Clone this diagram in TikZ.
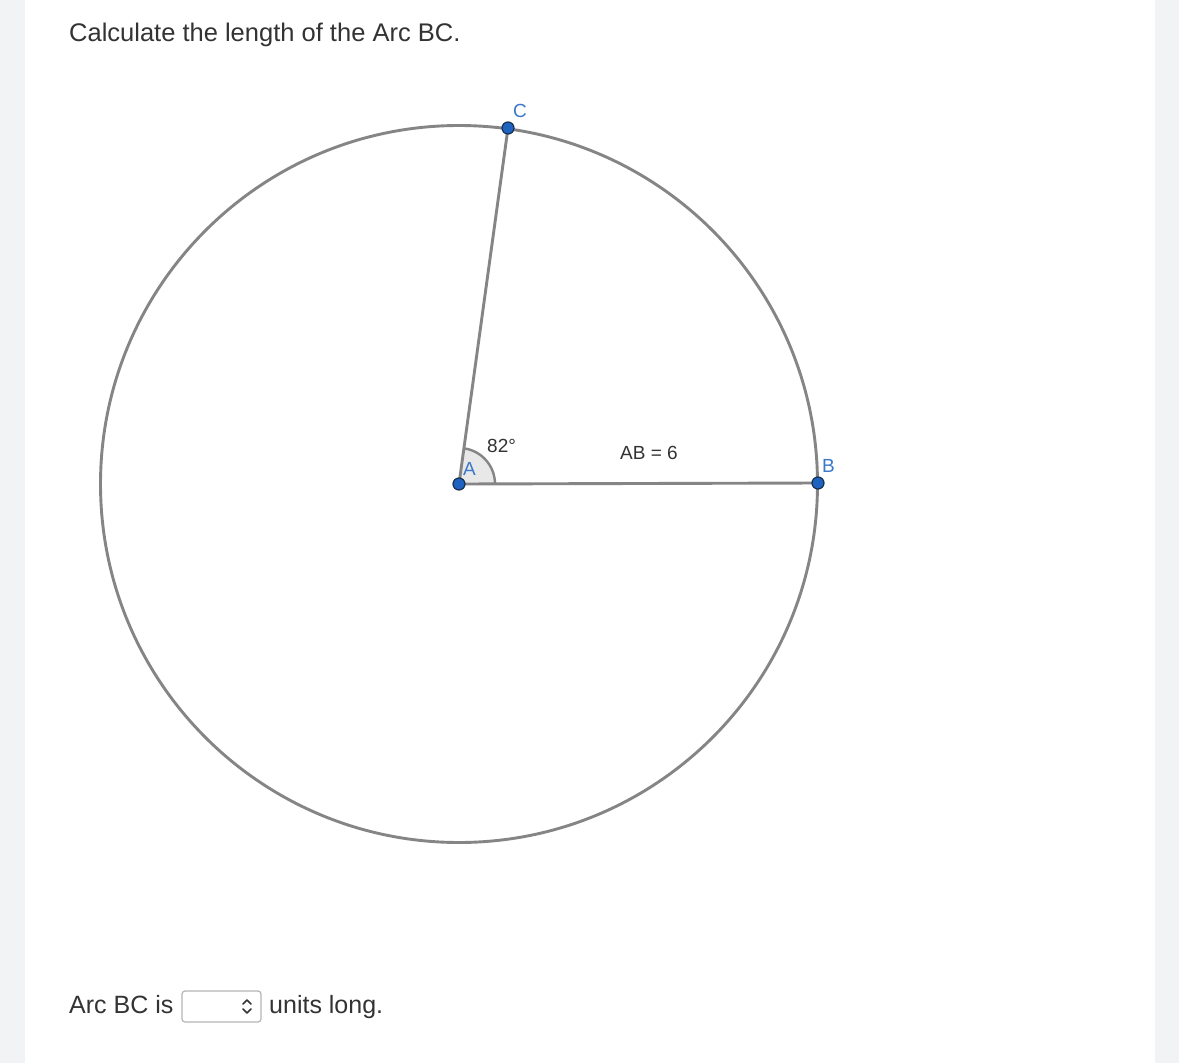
\documentclass[tikz,border=0pt]{standalone}
\usepackage{fontspec}
\usetikzlibrary{calc}
\setmainfont{Liberation Sans}
\definecolor{pagegray}{HTML}{F2F3F5}
\definecolor{linegray}{HTML}{858585}
\definecolor{txt}{HTML}{333333}
\definecolor{lblblue}{HTML}{3A78C9}
\definecolor{dotblue}{HTML}{1E63C0}
\definecolor{dotedge}{HTML}{1A2E50}
\definecolor{boxedge}{HTML}{B5B5B5}
\tikzset{
  seg/.style={draw=linegray, line width=2.9pt},
  ptdot/.style={circle, fill=dotblue, draw=dotedge, line width=1.2pt, minimum size=12pt, inner sep=0pt},
  ptlbl/.style={text=lblblue, font=\fontsize{19}{22}\selectfont, inner sep=0pt, anchor=base west},
  mlbl/.style={text=txt, font=\fontsize{19}{22}\selectfont, inner sep=0pt, anchor=base west},
  bigtxt/.style={text=txt, font=\fontsize{25}{30}\selectfont, inner sep=0pt, anchor=base west},
}
\begin{document}
\begin{tikzpicture}[x=1pt,y=-1pt]
\useasboundingbox (0,0) rectangle (1179,1063);
\fill[pagegray] (0,0) rectangle (1179,1063);
\fill[white] (25,0) rectangle (1155,1063);
% title
\node[bigtxt, font=\fontsize{25.5}{30}\selectfont] (title) at (69,41) {Calculate the length of the Arc BC.};
% geometry
\coordinate (A) at (459,484);
\coordinate (B) at (818,483);
\coordinate (C) at (508,128);
\draw[linegray, line width=2.9pt] (A) circle[radius=358.5];
\fill[black!9] (A) -- ++(36,0) arc[start angle=0, end angle=-82, radius=36] -- cycle;
\draw[linegray, line width=2.4pt] ($(A)+(36,0)$) arc[start angle=0, end angle=-82, radius=36];
\draw[seg] (A) -- (B);
\draw[seg] (A) -- (C);
\node[ptdot] (dA) at (A) {};
\node[ptdot] (dB) at (B) {};
\node[ptdot] (dC) at (C) {};
\node[ptlbl] (lA) at (463,475) {A};
\node[ptlbl] (lB) at (822,472) {B};
\node[ptlbl] (lC) at (513,117) {C};
\node[mlbl] (ang) at (487,452) {82°};
\node[mlbl] (ab) at (620,459) {AB = 6};
% answer line
\node[bigtxt] (arc) at (69,1013) {Arc BC is};
\draw[boxedge, line width=1.2pt, rounded corners=3pt, fill=white] (182,991) rectangle (261,1022);
\draw[txt, line width=1.5pt, line cap=round, line join=round] (243,1004) -- (247,1000) -- (251,1004);
\draw[txt, line width=1.5pt, line cap=round, line join=round] (243,1009) -- (247,1013) -- (251,1009);
\node[bigtxt] (units) at (269,1013) {units long.};
\end{tikzpicture}
\end{document}
